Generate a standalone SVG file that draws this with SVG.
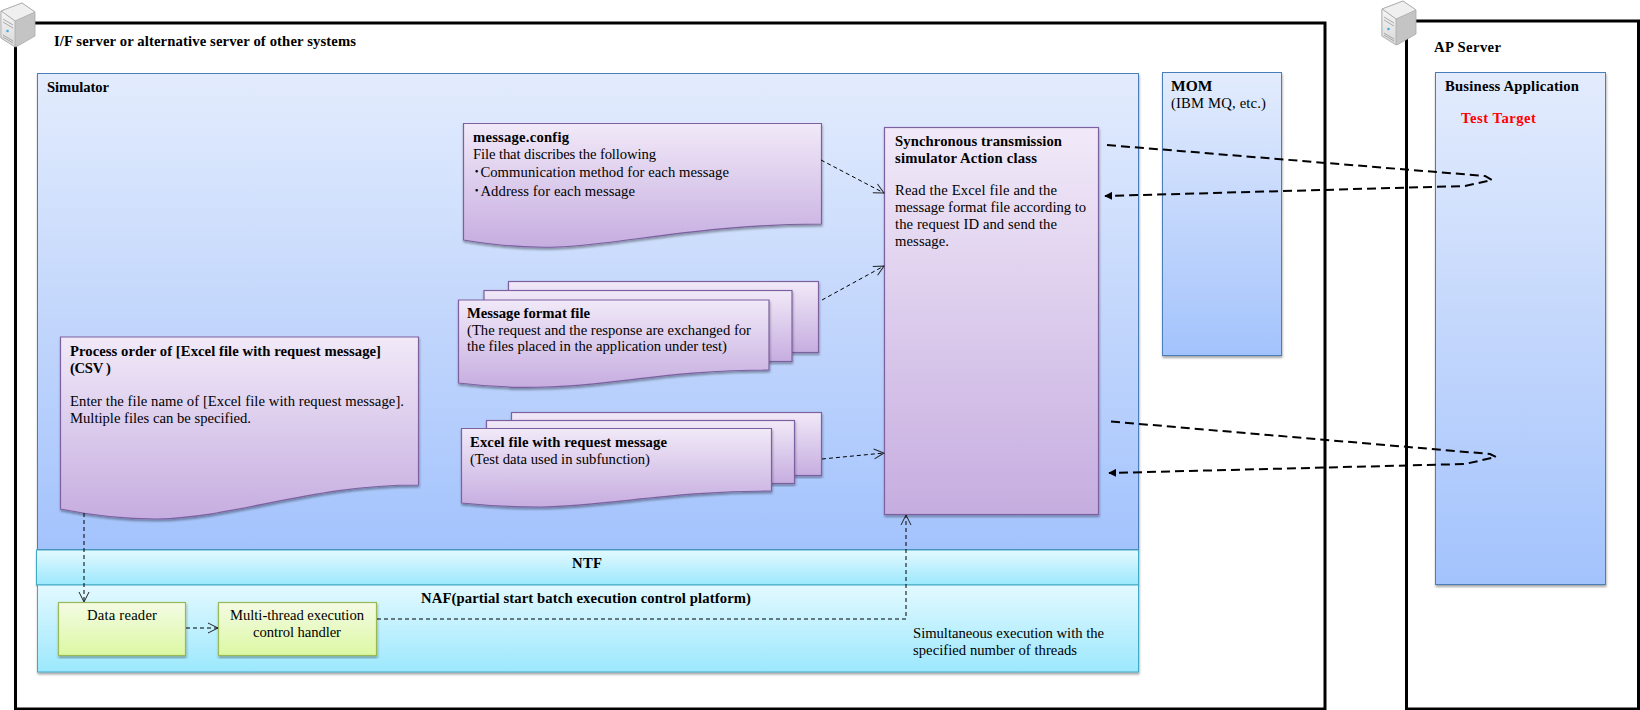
<svg xmlns="http://www.w3.org/2000/svg" width="1640" height="710" viewBox="0 0 1640 710">
<style>
text{font-family:"Liberation Serif","Times New Roman","Noto Sans CJK JP",serif;font-size:14.67px;fill:#000}
.b{font-weight:bold}
.r{fill:#ff0000}
.m{text-anchor:middle}
.frame{fill:#fff;stroke:#000;stroke-width:3}
.blue{fill:url(#gb);stroke:#4a7ebb;stroke-width:1;filter:url(#sh)}
.cy{fill:url(#gc);stroke:#40a9c4;stroke-width:1;filter:url(#sh)}
.pu{fill:url(#gp);stroke:#7d60a0;stroke-width:1.2;filter:url(#sh)}
.gr{fill:url(#gg);stroke:#98b954;stroke-width:1.2;filter:url(#sh)}
.thin{fill:none;stroke:#000;stroke-width:1;stroke-dasharray:4 3}
.thick{fill:none;stroke:#000;stroke-width:2;stroke-dasharray:9 5}
</style>
<defs>
<linearGradient id="gb" x1="0" y1="0" x2="0" y2="1"><stop offset="0" stop-color="#e3ecfd"/><stop offset=".6" stop-color="#bdd3fc"/><stop offset="1" stop-color="#a3c3fd"/></linearGradient>
<linearGradient id="gc" x1="0" y1="0" x2="0" y2="1"><stop offset="0" stop-color="#e3f9ff"/><stop offset="1" stop-color="#9ce8fd"/></linearGradient>
<linearGradient id="gp" x1="0" y1="0" x2="0" y2="1"><stop offset="0" stop-color="#f1e9f8"/><stop offset="1" stop-color="#c6ade0"/></linearGradient>
<linearGradient id="gg" x1="0" y1="0" x2="0" y2="1"><stop offset="0" stop-color="#f4fbe4"/><stop offset="1" stop-color="#dcf8a3"/></linearGradient>
<linearGradient id="sf" x1="0" y1="0" x2="0" y2="1"><stop offset="0" stop-color="#f6f6f6"/><stop offset="1" stop-color="#d8d8d8"/></linearGradient>
<filter id="sh" x="-5%" y="-5%" width="110%" height="110%"><feDropShadow dx="0.5" dy="2" stdDeviation="1.2" flood-color="#000" flood-opacity=".35"/></filter>
<marker id="op" viewBox="0 0 12 12" refX="11" refY="6" markerWidth="12" markerHeight="12" markerUnits="userSpaceOnUse" orient="auto"><path d="M1 1L11 6L1 11" fill="none" stroke="#222" stroke-width="1"/></marker>
<marker id="so" viewBox="0 0 10 10" refX="9" refY="5" markerWidth="8" markerHeight="8" markerUnits="userSpaceOnUse" orient="auto"><path d="M0 0L10 5L0 10Z" fill="#000"/></marker>
<g id="srv"><path d="M0 8L21 0L34 9V33L15 44L0 35Z" fill="#c4c4c4" stroke="#aaa" stroke-width=".8"/><path d="M0 8L21 0L34 9L14 18Z" fill="#efefef" stroke="#aaa" stroke-width=".8"/><path d="M0 8L14 18V44L0 35Z" fill="url(#sf)" stroke="#aaa" stroke-width=".8"/><path d="M2 16L12 22M2 19L12 25M2 32L12 38M2 34L12 40" stroke="#999" stroke-width=".8"/><circle cx="6.500" cy="28" r="1.300" fill="#4aa8e0"/></g>
</defs>

<g id="if-server"><rect class="frame" x="15.500" y="23" width="1309.500" height="686"/><text class="b" x="54" y="46" textLength="302">I/F server or alternative server of other systems</text></g>
<g id="ap-server"><rect class="frame" x="1406.500" y="21" width="232" height="688"/><text class="b" x="1434" y="52" textLength="67">AP Server</text></g>
<g id="server-icon-1"><use href="#srv" x="1" y="3"/></g>
<g id="server-icon-2"><use href="#srv" x="1382" y="1"/></g>

<g id="simulator"><rect class="blue" x="37.500" y="73.500" width="1101" height="476"/><text class="b" x="47" y="92" textLength="62">Simulator</text></g>
<g id="mom"><rect class="blue" x="1162.500" y="72.500" width="119" height="283"/><text class="b" x="1171" y="91" style="font-size:15.5px">MOM</text><text x="1171" y="108" textLength="95">(IBM MQ, etc.)</text></g>
<g id="business-application"><rect class="blue" x="1435.500" y="72.500" width="170" height="512"/><text class="b" x="1445" y="91" textLength="134">Business Application</text><text class="b r" x="1461" y="123" textLength="75">Test Target</text></g>

<g id="ntf"><rect class="cy" x="36.500" y="550" width="1102" height="35"/><text class="b m" x="587" y="568" textLength="30">NTF</text></g>
<g id="naf"><rect class="cy" x="37.500" y="585" width="1101" height="87"/><text class="b m" x="586" y="603" textLength="330">NAF(partial start batch execution control platform)</text><text x="913" y="638" textLength="191">Simultaneous execution with the</text><text x="913" y="655" textLength="164">specified number of threads</text></g>
<g id="data-reader"><rect class="gr" x="58.500" y="602.500" width="127" height="53"/><text class="m" x="122" y="620" textLength="70">Data reader</text></g>
<g id="thread-handler"><rect class="gr" x="218.500" y="602.500" width="158" height="53"/><text class="m" x="297" y="620" textLength="134">Multi-thread execution</text><text class="m" x="297" y="637" textLength="88">control handler</text></g>

<g id="process-order"><path class="pu" d="M60.500 337H418.500V485C310 485 240 517 157 519C125 519 90 515 60.500 509Z"/><text class="b" x="70" y="356" textLength="311">Process order of [Excel file with request message]</text><text class="b" x="70" y="373" textLength="41">(CSV )</text><text x="70" y="406" textLength="334">Enter the file name of [Excel file with request message].</text><text x="70" y="423" textLength="181">Multiple files can be specified.</text></g>
<g id="message-config"><path class="pu" d="M463.500 123.500H821.500V224C700 224 620 245 557 247C530 248 500 246 463.500 240Z"/><text class="b" x="473" y="142" textLength="96">message.config</text><text x="473" y="159" textLength="183">File that discribes the following</text><text x="473" y="177" textLength="256">･Communication method for each message</text><text x="473" y="196" textLength="162">･Address for each message</text></g>
<g id="message-format"><rect class="pu" x="508.500" y="281.500" width="310" height="71"/><rect class="pu" x="484" y="290.500" width="308" height="71"/><path class="pu" d="M458.500 300H769V370C670 370 610 386 545 387C520 388 490 387 458.500 383Z"/><text class="b" x="467" y="318" textLength="123">Message format file</text><text x="467" y="335" textLength="284">(The request and the response are exchanged for</text><text x="467" y="351" textLength="260">the files placed in the application under test)</text></g>
<g id="excel-file"><rect class="pu" x="511.500" y="412.500" width="310" height="63"/><rect class="pu" x="486.500" y="420.500" width="308" height="63"/><path class="pu" d="M461.500 428.500H771.500V491C670 491 610 506 540 507C515 507 490 506 461.500 503Z"/><text class="b" x="470" y="447" textLength="197">Excel file with request message</text><text x="470" y="464" textLength="180">(Test data used in subfunction)</text></g>
<g id="sync-action"><rect class="pu" x="884.500" y="127.500" width="214" height="387"/><text class="b" x="895" y="146" textLength="167">Synchronous transmission</text><text class="b" x="895" y="163" textLength="142">simulator Action class</text><text x="895" y="195" textLength="162">Read the Excel file and the</text><text x="895" y="212" textLength="191">message format file according to</text><text x="895" y="229" textLength="162">the request ID and send the</text><text x="895" y="246" textLength="54">message.</text></g>

<g id="connectors">
<path class="thin" marker-end="url(#op)" d="M821 160L884 193"/>
<path class="thin" marker-end="url(#op)" d="M822 300L884 266"/>
<path class="thin" marker-end="url(#op)" d="M822 459L884 453"/>
<path class="thin" marker-end="url(#op)" d="M84 513V602"/>
<path class="thin" marker-end="url(#op)" d="M186 628H218"/>
<path class="thin" marker-end="url(#op)" d="M377 619H906V515"/>
<path class="thick" marker-end="url(#so)" d="M1107 145L1485 176L1492 180L1465 186L1105 196"/>
<path class="thick" marker-end="url(#so)" d="M1111 421.500L1490 454L1496 457L1465 464L1109 473"/>
</g>
</svg>
